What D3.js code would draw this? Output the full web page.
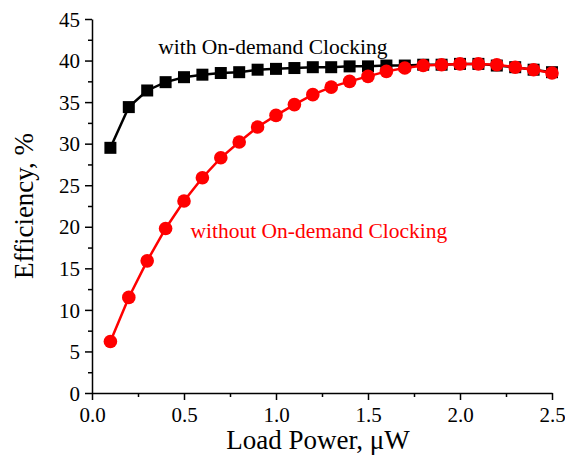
<!DOCTYPE html>
<html>
<head>
<meta charset="utf-8">
<script src="https://cdn.jsdelivr.net/npm/d3@7"></script>
<style>
  body { margin: 0; background: #fff; }
  svg text { font-family: "Liberation Serif", "Times New Roman", serif; }
</style>
</head>
<body>
<div id="chart"></div>
<script>
// load power (uW)
const loadPower = [0.1, 0.2, 0.3, 0.4, 0.5, 0.6, 0.7, 0.8, 0.9, 1.0, 1.1, 1.2, 1.3,
  1.4, 1.5, 1.6, 1.7, 1.8, 1.9, 2.0, 2.1, 2.2, 2.3, 2.4, 2.5];
// efficiency with on-demand clocking (%)
const withClocking = [29.5, 34.4, 36.4, 37.4, 38.0, 38.3, 38.5, 38.6, 38.9, 39.0, 39.1, 39.2, 39.2,
  39.3, 39.3, 39.4, 39.4, 39.5, 39.5, 39.6, 39.6, 39.4, 39.2, 38.9, 38.6];
// efficiency without on-demand clocking (%)
const withoutClocking = [6.2, 11.5, 15.9, 19.8, 23.1, 25.9, 28.3, 30.2, 32.0, 33.4, 34.7, 35.9, 36.8,
  37.5, 38.1, 38.7, 39.1, 39.4, 39.5, 39.6, 39.6, 39.5, 39.2, 38.9, 38.5];
const xTicks = [0.0, 0.5, 1.0, 1.5, 2.0, 2.5];
const yTicks = [0, 5, 10, 15, 20, 25, 30, 35, 40, 45];

const margin = { top: 19, right: 13, bottom: 64, left: 92 },
  width = 565 - margin.left - margin.right,
  height = 457 - margin.top - margin.bottom;

const svg = d3.select("#chart").append("svg")
    .attr("width", 565)
    .attr("height", 457)
  .append("g")
    .attr("transform", "translate(" + margin.left + "," + margin.top + ")");

const x = d3.scaleLinear().domain([0, 2.5]).range([0, width]);
const y = d3.scaleLinear().domain([0, 45]).range([height, 0]);

// minor ticks first (no labels)
svg.append("g")
    .attr("transform", "translate(0," + height + ")")
    .call(d3.axisBottom(x).tickValues(d3.range(0.25, 2.5, 0.5)).tickSize(4).tickFormat(""))
    .call(g => g.select(".domain").remove())
    .selectAll("line").attr("stroke-width", 1.5);
svg.append("g")
    .call(d3.axisLeft(y).tickValues(d3.range(2.5, 45, 5)).tickSize(4).tickFormat(""))
    .call(g => g.select(".domain").remove())
    .selectAll("line").attr("stroke-width", 1.5);

// main axes
const xAxis = svg.append("g")
    .attr("transform", "translate(0," + height + ")")
    .call(d3.axisBottom(x).tickValues(xTicks).tickSize(7).tickSizeOuter(0).tickPadding(7).tickFormat(d3.format(".1f")));
const yAxis = svg.append("g")
    .call(d3.axisLeft(y).tickValues(yTicks).tickSize(7).tickSizeOuter(0).tickPadding(5).tickFormat(d3.format("d")));

[xAxis, yAxis].forEach(a => {
  a.attr("font-family", null);
  a.select(".domain").attr("stroke-width", 1.5);
  a.selectAll("line").attr("stroke-width", 1.5);
  a.selectAll("text")
    .attr("font-size", "21px")
    .attr("fill", "#000");
});
yAxis.selectAll("text").attr("dy", "0.34em");

// axis titles
svg.append("text")
    .attr("x", width / 2 - 4)
    .attr("y", height + 56)
    .attr("text-anchor", "middle")
    .attr("font-size", "27px")
    .text("Load Power, \u03BCW");

svg.append("text")
    .attr("transform", "translate(" + (33 - margin.left) + "," + (height / 2) + ") rotate(-90)")
    .attr("text-anchor", "middle")
    .attr("font-size", "27px")
    .text("Efficiency, %");

// series
function drawSeries(values, color, marker) {
  const pts = loadPower.map((p, i) => ({ p: p, v: values[i] }));
  const line = d3.line().x(d => x(d.p)).y(d => y(d.v));
  svg.append("path")
      .datum(pts)
      .attr("fill", "none")
      .attr("stroke", color)
      .attr("stroke-width", 2.5)
      .attr("d", line);
  if (marker === "square") {
    svg.selectAll(null).data(pts).enter().append("rect")
        .attr("x", d => x(d.p) - 6)
        .attr("y", d => y(d.v) - 6)
        .attr("width", 12)
        .attr("height", 12)
        .attr("fill", color);
  } else {
    svg.selectAll(null).data(pts).enter().append("circle")
        .attr("cx", d => x(d.p))
        .attr("cy", d => y(d.v))
        .attr("r", 6.8)
        .attr("fill", color);
  }
}
drawSeries(withClocking, "#000", "square");
drawSeries(withoutClocking, "#ff0000", "circle");

// annotations
svg.append("text")
    .attr("x", x(0.36))
    .attr("y", y(40.8))
    .attr("font-size", "21.5px")
    .attr("fill", "#000")
    .text("with On-demand Clocking");

svg.append("text")
    .attr("x", x(0.535))
    .attr("y", y(18.7))
    .attr("font-size", "21.5px")
    .attr("fill", "#ff0000")
    .text("without On-demand Clocking");
</script>
</body>
</html>
